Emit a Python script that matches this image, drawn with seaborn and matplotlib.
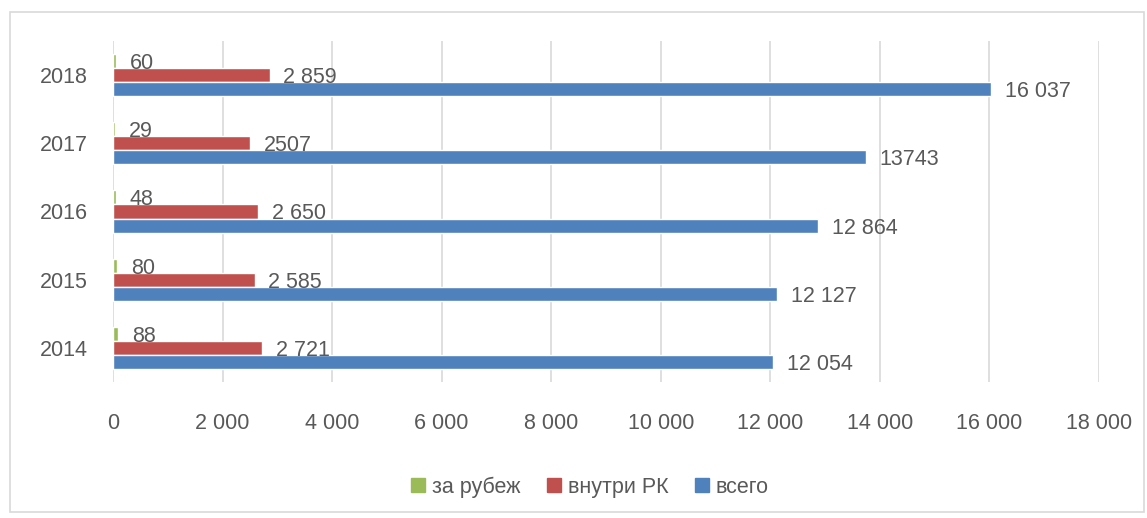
import matplotlib
matplotlib.use('Agg')
import matplotlib.pyplot as plt
import seaborn as sns
import pandas as pd
from matplotlib.patches import Rectangle
from matplotlib.lines import Line2D

# data
years = ['2014', '2015', '2016', '2017', '2018']
abroad = [88, 80, 48, 29, 60]
inside = [2721, 2585, 2650, 2507, 2859]
total = [12054, 12127, 12864, 13743, 16037]
abroad_lbl = ['88', '80', '48', '29', '60']
inside_lbl = ['2 721', '2 585', '2 650', '2507', '2 859']
total_lbl = ['12 054', '12 127', '12 864', '13743', '16 037']
series = ['за рубеж', 'внутри РК', 'всего']
colors = ['#9BBB59', '#C0504D', '#4F81BD']
xticks = list(range(0, 18001, 2000))
xtick_lbl = ['0', '2 000', '4 000', '6 000', '8 000', '10 000', '12 000', '14 000', '16 000', '18 000']

df = pd.DataFrame({
    'year': years * 3,
    'value': abroad + inside + total,
    'series': [series[0]] * 5 + [series[1]] * 5 + [series[2]] * 5,
})

sns.set_style('white')
plt.rcParams['font.family'] = ['Liberation Sans', 'DejaVu Sans']
txt = '#595959'
fs = 15.5

fig = plt.figure(figsize=(11.47, 5.18), dpi=100)
ax = fig.add_axes([113 / 1147, 1 - 382 / 518, 986 / 1147, 341 / 518])

order = years[::-1]
sns.barplot(data=df, x='value', y='year', hue='series', order=order,
            hue_order=series, orient='h', palette=colors,
            width=0.62, gap=0, saturation=1, ax=ax, legend=False)

# labels per series, containers follow hue order
lbls = [abroad_lbl, inside_lbl, total_lbl]
for cont, lb in zip(ax.containers, lbls):
    # containers are in 'order' (2018 top), label lists are 2014 first
    texts = ax.bar_label(cont, labels=lb[::-1], padding=10, fontsize=fs, color=txt)
    for t in texts:
        t.set_va('center_baseline')

ax.set_xlim(0, 18000)
ax.set_ylim(4.5, -0.5)
ax.set_xticks(xticks)
ax.set_xticklabels(xtick_lbl)
ax.set_xlabel('')
ax.set_ylabel('')
ax.xaxis.grid(True, color='#D9D9D9', linewidth=1.2)
ax.set_axisbelow(True)
for s in ax.spines.values():
    s.set_visible(False)
ax.tick_params(axis='both', labelsize=fs, colors=txt, length=0)
ax.tick_params(axis='x', pad=22)
ax.tick_params(axis='y', pad=18)

handles = [Line2D([], [], marker='s', linestyle='', markersize=10,
                  markerfacecolor=c, markeredgecolor=c) for c in colors]
fig.legend(handles, series, loc='center', bbox_to_anchor=(0.514, 0.06), ncol=3,
           frameon=False, fontsize=fs, handlelength=0.7, handletextpad=0.3,
           columnspacing=1.2, labelcolor=txt)

fig.patches.append(Rectangle((10 / 1147, 1 - 512 / 518), 1134 / 1147, 500 / 518,
                             transform=fig.transFigure, fill=False,
                             edgecolor='#D9D9D9', linewidth=1.2))

fig.savefig('out.png', dpi=100)
